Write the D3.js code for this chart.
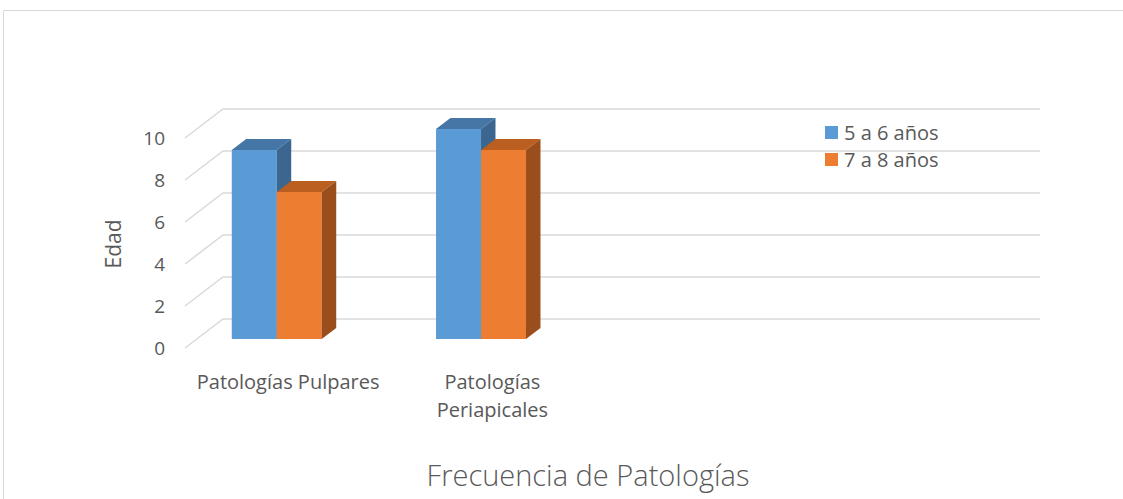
<!DOCTYPE html>
<html>
<head>
<meta charset="utf-8">
<script src="https://cdn.jsdelivr.net/npm/d3@7"></script>
<style>
  body { margin: 0; background: #fff; }
  #chart { width: 1123px; height: 499px; }
  text { font-family: "Open Sans", sans-serif; fill: #595959; }
</style>
</head>
<body>
<div id="chart"></div>
<script>
// data
const categories = ["Patologías Pulpares", "Patologías Periapicales", "", ""];
const series = ["5 a 6 años", "7 a 8 años"];
const values56 = [9, 10, null, null];
const values78 = [7, 9, null, null];
const yTicks = [0, 2, 4, 6, 8, 10];

const colors = {
    front: ["#5b9bd5", "#ed7d31"],
    top: ["#4676a6", "#ba5f1f"],
    side: ["#3a668f", "#9a4e1c"]
};

const width = 1123, height = 499;

const svg = d3.select("#chart")
    .append("svg")
    .attr("width", width)
    .attr("height", height);

// outer frame (runs off the right and bottom)
svg.append("path")
    .attr("d", `M3.5,${height} V10.5 H${width}`)
    .attr("fill", "none")
    .attr("stroke", "#d9d9d9")
    .attr("stroke-width", 1);

/* 3D geometry: z = 0 front plane, z = 1 back wall */
const depth = {dx: 38, dy: -29};
function proj(x, y, z) {
    return [x + z * depth.dx, y + z * depth.dy];
}

const xScale = d3.scaleBand()
    .domain(d3.range(categories.length))
    .range([185, 1002]);

const yScale = d3.scaleLinear()
    .domain([0, 10])
    .range([348, 138]);

// gridlines: side wall diagonal + back wall horizontal
const grid = svg.append("g");
yTicks.forEach(function(t) {
    const a = proj(xScale.range()[0], yScale(t), 0);
    const b = proj(xScale.range()[0], yScale(t), 1);
    const c = proj(xScale.range()[1], yScale(t), 1);
    grid.append("path")
        .attr("d", `M${a[0]},${a[1]} L${b[0]},${b[1]} L${c[0]},${c[1]}`)
        .attr("fill", "none")
        .attr("stroke", "#d9d9d9")
        .attr("stroke-width", 1.5);
});

// y tick labels
svg.append("g")
    .selectAll("text")
    .data(yTicks)
    .enter()
    .append("text")
    .attr("x", 165)
    .attr("y", function(d) { return yScale(d); })
    .attr("dy", "0.35em")
    .attr("text-anchor", "end")
    .style("font-size", "19px")
    .text(function(d) { return d; });

// bars
const zFront = 0.31, zBack = 0.69;
const barW = 45, barOffset = 35;
const allValues = [values56, values78];

const bars = svg.append("g");
categories.forEach(function(cat, i) {
    allValues.forEach(function(vals, s) {
        const v = vals[i];
        if (v == null) return;
        const x0 = xScale(i) + barOffset + s * barW;
        const x1 = x0 + barW;
        const f0 = proj(x0, yScale(v), zFront);
        const f1 = proj(x1, yScale(0), zFront);
        const b0 = proj(x0, yScale(v), zBack);
        const b1 = proj(x1, yScale(v), zBack);
        const b2 = proj(x1, yScale(0), zBack);

        // front face
        bars.append("rect")
            .attr("x", f0[0])
            .attr("y", f0[1])
            .attr("width", f1[0] - f0[0])
            .attr("height", f1[1] - f0[1])
            .attr("fill", colors.front[s]);

        // top face
        bars.append("path")
            .attr("d", `M${f0[0]},${f0[1]} L${b0[0]},${b0[1]} L${b1[0]},${b1[1]} L${f1[0]},${f0[1]} Z`)
            .attr("fill", colors.top[s]);

        // side face
        bars.append("path")
            .attr("d", `M${f1[0]},${f0[1]} L${b1[0]},${b1[1]} L${b2[0]},${b2[1]} L${f1[0]},${f1[1]} Z`)
            .attr("fill", colors.side[s]);
    });
});

// category labels
const catLabels = svg.append("g");
categories.forEach(function(cat, i) {
    if (!cat) return;
    const cx = xScale(i) + xScale.bandwidth() / 2 + 1;
    const words = cat.split(" ");
    const t = catLabels.append("text")
        .attr("text-anchor", "middle")
        .style("font-size", "20px");
    // second category wraps onto two lines in the original
    const lines = i === 1 ? words : [cat];
    lines.forEach(function(line, k) {
        t.append("tspan")
            .attr("x", cx)
            .attr("y", 382 + k * 28)
            .attr("dy", "0.35em")
            .text(line);
    });
});

// axis titles
svg.append("text")
    .attr("transform", "translate(114,244) rotate(-90)")
    .attr("text-anchor", "middle")
    .attr("dy", "0.35em")
    .style("font-size", "21px")
    .text("Edad");

svg.append("text")
    .attr("x", 588)
    .attr("y", 476)
    .attr("dy", "0.35em")
    .attr("text-anchor", "middle")
    .style("font-size", "29px")
    .style("font-weight", 300)
    .text("Frecuencia de Patologías");

// legend
const legend = svg.append("g")
    .selectAll("g")
    .data(series)
    .enter()
    .append("g")
    .attr("transform", function(d, i) { return `translate(825,${133 + i * 27})`; });

legend.append("rect")
    .attr("x", 0)
    .attr("y", -7)
    .attr("width", 13)
    .attr("height", 13)
    .attr("fill", function(d, i) { return colors.front[i]; });

legend.append("text")
    .attr("x", 19)
    .attr("y", 0)
    .attr("dy", "0.35em")
    .style("font-size", "20px")
    .text(function(d) { return d; });
</script>
</body>
</html>
